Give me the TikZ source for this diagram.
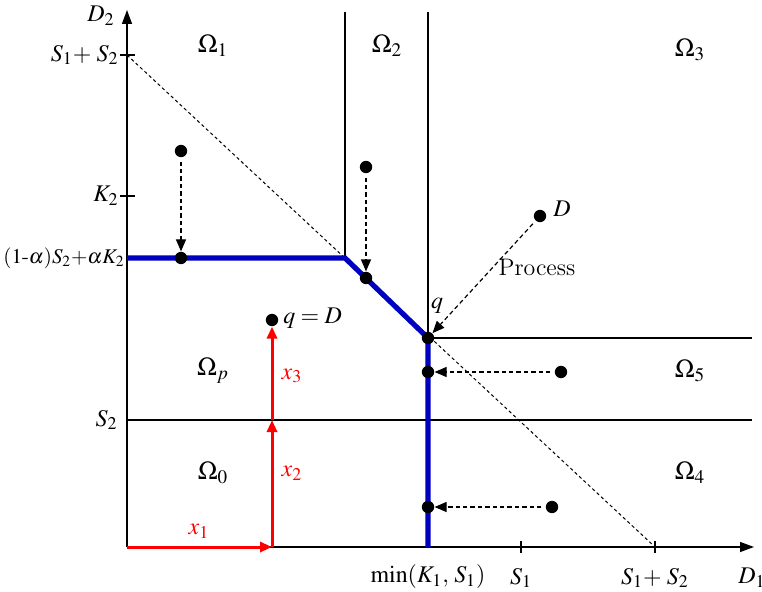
\documentclass[tikz,border=0pt]{standalone}
\usepackage{mathptmx}
\usetikzlibrary{arrows.meta}

\begin{document}
\begin{tikzpicture}[x=0.5bp, y=-0.5bp,
    every node/.style={font=\fontsize{12}{14}\selectfont},
    axis/.style={line width=0.7bp, -{Triangle[length=7bp, width=5bp]}},
    bound/.style={line width=0.7bp},
    feasible/.style={blue!75!black, line width=2.6bp},
    flow/.style={red, line width=1.5bp, -{Triangle[length=6bp, width=5bp]}},
    move/.style={dashed, dash pattern=on 2.2bp off 1.5bp, line width=0.6bp,
        -{Triangle[length=6bp, width=5bp]}, shorten <=2bp},
    dot/.style={circle, fill=black, inner sep=0pt, minimum size=6.2bp},
    region/.style={font=\fontsize{13}{15}\selectfont}]

    % ---- Frame ----
    \useasboundingbox (0,0) rectangle (762,592);

    % ---- Axes ----
    \coordinate (O) at (127,547);
    \coordinate (xend) at (754,547);
    \coordinate (yend) at (127,10);
    \draw[axis] (O) -- (xend);
    \draw[axis] (O) -- (yend);
    \node (lD2) at (101,16) {$D_2$};
    \node (lD1) at (752,578) {$D_1$};

    % ---- Ticks on the axes ----
    \draw[bound] (120,55) -- (135,55);
    \draw[bound] (120,196) -- (135,196);
    \draw[bound] (521,541) -- (521,553);
    \draw[bound] (655,541) -- (655,553);
    \node[left, inner sep=1pt] (lS12y) at (121,55) {$S_1{+}\;S_2$};
    \node[left, inner sep=1pt] (lK2) at (121,196) {$K_2$};
    \node[left, inner sep=0pt, font=\fontsize{10.5}{13}\selectfont] (lmix) at (125,258)
        {$(1\mbox{-}\alpha)S_2{+}\alpha K_2$};
    \node[left, inner sep=1pt] (lS2) at (120,420) {$S_2$};
    \node (lmin) at (428,577) {$\min(K_1,\,S_1)$};
    \node (lS1) at (521,578) {$S_1$};
    \node (lS12x) at (655,578) {$S_1{+}\;S_2$};

    % ---- Total capacity line ----
    \draw[dashed, dash pattern=on 1.6bp off 1.4bp, line width=0.5bp] (127,55) -- (655,547);

    % ---- Region boundaries ----
    \draw[bound] (345,12) -- (345,258);
    \draw[bound] (428,12) -- (428,338);
    \draw[bound] (428,338) -- (752,338);
    \draw[bound] (127,420) -- (752,420);

    % ---- Feasible boundary (blue) ----
    \draw[feasible, line join=miter] (127,258) -- (345,258) -- (428,338) -- (428,547);

    % ---- Region labels ----
    \node[region] (R1) at (213,46) {$\Omega_1$};
    \node[region] (R2) at (387,46) {$\Omega_2$};
    \node[region] (R3) at (690,50) {$\Omega_3$};
    \node[region] (Rp) at (213,371) {$\Omega_p$};
    \node[region] (R5) at (690,371) {$\Omega_5$};
    \node[region] (R0) at (213,473) {$\Omega_0$};
    \node[region] (R4) at (690,473) {$\Omega_4$};

    % ---- Demand points and projections ----
    \node[dot] (a1) at (181,151) {};
    \node[dot] (a2) at (181,258) {};
    \node[dot] (b1) at (366,167) {};
    \node[dot] (b2) at (366,278) {};
    \node[dot] (D) at (540,216) {};
    \node[dot] (q) at (428,338) {};
    \node[dot] (c1) at (561,372) {};
    \node[dot] (c2) at (428,372) {};
    \node[dot] (e1) at (552,507) {};
    \node[dot] (e2) at (428,507) {};
    \node[dot] (qD) at (272,320) {};

    \draw[move] (a1) -- (a2);
    \draw[move] (b1) -- (b2);
    \draw[move] (D) -- (q);
    \draw[move] (c1) -- (c2);
    \draw[move] (e1) -- (e2);

    \node[right, inner sep=1pt] (lD) at (551,209) {$D$};
    \node (lq) at (437,306) {$q$};
    \node (lproc) at (537,267) {Process};
    \node[right, inner sep=1pt] (lqD) at (281,318) {$q=D$};

    % ---- Allocation steps (red) ----
    \coordinate (s1) at (272,547);
    \coordinate (s2) at (272,420);
    \draw[flow] (O) -- (s1);
    \draw[flow] (s1) -- (s2);
    \draw[flow] (s2) -- (qD);
    \node[red] (lx1) at (199,531) {$x_1$};
    \node[red] (lx2) at (292,473) {$x_2$};
    \node[red] (lx3) at (292,376) {$x_3$};

\end{tikzpicture}
\end{document}
